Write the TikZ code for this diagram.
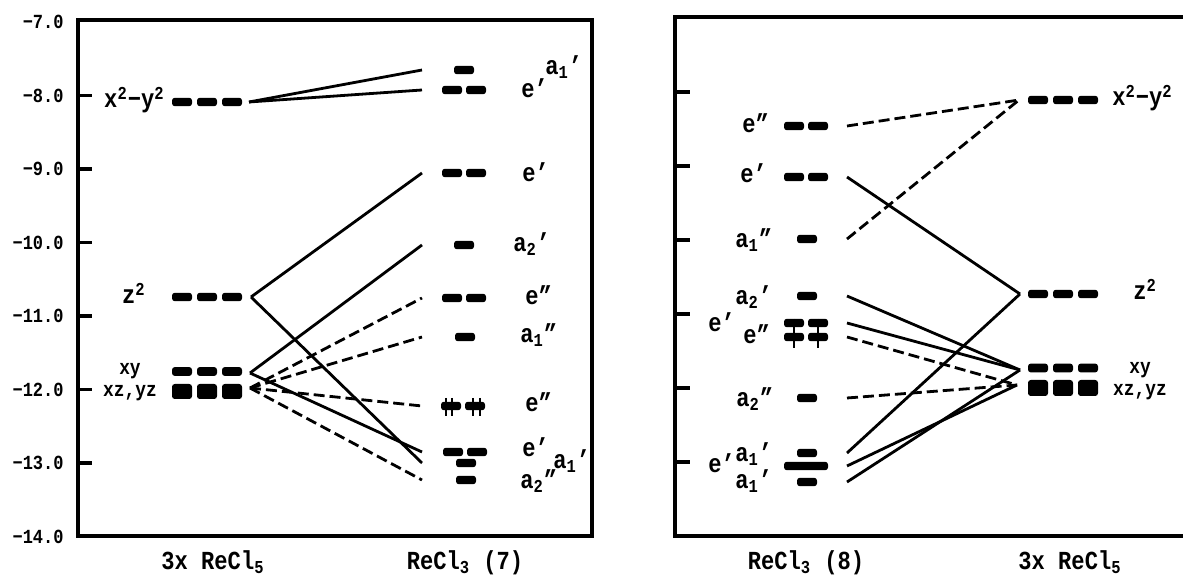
\documentclass[tikz,border=0pt]{standalone}
\usepackage{fontspec}
\newfontfamily\plotfont{Liberation Mono}[FakeStretch=0.85,Ligatures=TeX]
\newcommand\tribar[4]{% name, first centre x, y, height
  \node[orb,minimum height=#4] (#1a) at (#2,#3) {};
  \node[orb,minimum height=#4] (#1b) at (#2+25,#3) {};
  \node[orb,minimum height=#4] (#1c) at (#2+50,#3) {};}
\newcommand\duobar[3]{% name, first centre x, y
  \node[orb] (#1a) at (#2,#3) {};
  \node[orb] (#1b) at (#2+24,#3) {};}
\newcommand\monobar[3]{% name, centre x, y
  \node[orb] (#1) at (#2,#3) {};}
\begin{document}
\begin{tikzpicture}[x=0.5pt,y=-0.5pt,
  frame/.style={line width=1.6pt},
  conn/.style={line width=1.4pt},
  dconn/.style={line width=1.4pt, dash pattern=on 5.5pt off 2.5pt},
  orb/.style={fill=black, draw=none, inner sep=0pt, minimum height=4.2pt, minimum width=10pt, rounded corners=1.4pt},
  tick/.style={font=\plotfont\bfseries\fontsize{10}{11}\selectfont, anchor=east, inner sep=0pt},
  lab/.style={font=\plotfont\bfseries\fontsize{13}{14}\selectfont, inner sep=0pt, anchor=base west},
  slab/.style={font=\plotfont\bfseries\fontsize{10.5}{11}\selectfont, inner sep=0pt, anchor=base},
  blab/.style={font=\plotfont\bfseries\fontsize{13}{14}\selectfont, inner sep=0pt, anchor=base},
]
\useasboundingbox (0,0) rectangle (1183,576);
\fill[white] (0,0) rectangle (1183,576);

% ---------------- left panel frame and axis
\draw[frame] (78,20) rectangle (592,536);
\foreach \v/\yy in {8/95.5, 9/169, 10/242.5, 11/316, 12/389.5, 13/463} {
  \draw[frame] (78,\yy) -- (92,\yy);
  \node[tick] (t\v) at (64,\yy) {−\v.0};
}
\node[tick] (t7) at (64,22) {−7.0};
\node[tick] (t14) at (64,536.5) {−14.0};

% ---------------- right panel frame
\draw[frame] (1183,17) -- (675,17) -- (675,536) -- (1183,536);
\foreach \yy in {92,166,240,314,388,462} \draw[frame] (675,\yy) -- (690,\yy);

% ---------------- left column: 3x ReCl5
\tribar{lx}{182}{102}{4.2pt}
\tribar{lz}{182}{297}{4.2pt}
\tribar{lxy}{182}{371.5}{4.4pt}
\tribar{lxz}{182}{391.5}{7.5pt}
\node[lab, anchor=base east] (llx) at (165,108) {x\textsuperscript{2}−y\textsuperscript{2}};
\node[lab, anchor=base east] (llz) at (146,304) {z\textsuperscript{2}};
\node[slab] (llxy) at (130,375) {xy};
\node[slab] (llxz) at (130,397) {xz,yz};

% ---------------- middle column: ReCl3 (7)
\monobar{ma}{464}{70}
\duobar{mb}{452}{90}
\duobar{mc}{452}{173}
\monobar{md}{464}{245}
\duobar{me}{452}{298}
\monobar{mf}{465}{337}
\duobar{mg}{451}{406}
\foreach \xx in {446,452,473,480} \draw[line width=1.2pt] (\xx,398) -- (\xx,416);
\duobar{mh}{453}{452}
\monobar{mi}{466}{463}
\monobar{mj}{466}{480}

\node[lab] (mla) at (545,75) {a\textsubscript{1}'};
\node[lab] (mlb) at (521,98) {e'};
\node[lab] (mlc) at (522,182) {e'};
\node[lab] (mld) at (513,252) {a\textsubscript{2}'};
\node[lab] (mle) at (525,305) {e''};
\node[lab] (mlf) at (520,343) {a\textsubscript{1}''};
\node[lab] (mlg) at (525,412) {e''};
\node[lab] (mlh) at (522,457) {e'};
\node[lab] (mli) at (553,469) {a\textsubscript{1}'};
\node[lab] (mlj) at (520,489) {a\textsubscript{2}''};

% connector ends, left panel
\coordinate (Lx) at (249,102);
\coordinate (Lz) at (251,297);
\coordinate (Lxy) at (250,373);
\coordinate (Lxz) at (250,388);
\coordinate (Ma) at (422,70);
\coordinate (Mb) at (422,90);
\coordinate (Mc) at (422,173);
\coordinate (Md) at (422,245);
\coordinate (Me) at (422,298);
\coordinate (Mf) at (422,337);
\coordinate (Mg) at (422,406);
\coordinate (Mh) at (422,452);
\coordinate (Mi) at (422,463);
\coordinate (Mj) at (422,480);

\draw[conn] (Lx) -- (Ma);
\draw[conn] (Lx) -- (Mb);
\draw[conn] (Lz) -- (Mc);
\draw[conn] (Lz) -- (Mi);
\draw[conn] (Lxy) -- (Md);
\draw[conn] (Lxy) -- (Mh);
\draw[dconn] (Lxz) -- (Me);
\draw[dconn] (Lxz) -- (Mf);
\draw[dconn] (Lxz) -- (Mg);
\draw[dconn] (Lxz) -- (Mj);

% ---------------- right panel middle column: ReCl3 (8)
\duobar{na}{794}{126}
\duobar{nb}{794}{177}
\monobar{nc}{807}{239}
\monobar{nd}{807}{296}
\duobar{ne}{794}{323}
\duobar{nf}{794}{337}
\foreach \xx in {794,818} \draw[line width=1.2pt] (\xx,319) -- (\xx,348);
\monobar{ng}{807}{398}
\monobar{nh}{807}{453}
\node[orb, minimum width=22pt] (ni) at (806,466) {};
\monobar{nj}{807}{482}

\node[lab] (nla) at (742,133) {e''};
\node[lab] (nlb) at (740,183) {e'};
\node[lab] (nlc) at (735,248) {a\textsubscript{1}''};
\node[lab] (nld) at (735,305) {a\textsubscript{2}'};
\node[lab] (nle) at (708,332) {e'};
\node[lab] (nlf) at (743,344) {e''};
\node[lab] (nlg) at (736,407) {a\textsubscript{2}''};
\node[lab] (nlh) at (735,462) {a\textsubscript{1}'};
\node[lab] (nli) at (708,473) {e'};
\node[lab] (nlj) at (735,489) {a\textsubscript{1}'};

% ---------------- right column: 3x ReCl5
\tribar{rx}{1038}{100}{4.2pt}
\tribar{rz}{1038}{294}{4.2pt}
\tribar{rxy}{1038}{368}{4.4pt}
\tribar{rxz}{1038}{388}{8pt}
\node[lab] (rlx) at (1112,106) {x\textsuperscript{2}−y\textsuperscript{2}};
\node[lab] (rlz) at (1133,300) {z\textsuperscript{2}};
\node[slab] (rlxy) at (1140,374) {xy};
\node[slab] (rlxz) at (1140,396) {xz,yz};

% connector ends, right panel
\coordinate (Na) at (847,126);
\coordinate (Nb) at (847,177);
\coordinate (Nc) at (847,239);
\coordinate (Nd) at (847,296);
\coordinate (Ne) at (847,323);
\coordinate (Nf) at (847,337);
\coordinate (Ng) at (847,398);
\coordinate (Nh) at (847,453);
\coordinate (Ni) at (847,466);
\coordinate (Nj) at (847,482);
\coordinate (Rx) at (1019,100);
\coordinate (Rz) at (1020,294);
\coordinate (Rxy) at (1020,370);
\coordinate (Rxz) at (1017,385);

\draw[dconn] (Na) -- (Rx);
\draw[dconn] (Nc) -- (Rx);
\draw[conn] (Nb) -- (Rz);
\draw[conn] (Nh) -- (Rz);
\draw[conn] (Nd) -- (Rxy);
\draw[conn] (Ne) -- (Rxy);
\draw[dconn] (Nf) -- (Rxz);
\draw[dconn] (Ng) -- (Rxz);
\draw[conn] (Ni) -- (Rxz);
\draw[conn] (Nj) -- (Rxy);

% ---------------- bottom labels
\node[blab] (b1) at (213,570) {3x ReCl\textsubscript{5}};
\node[blab] (b2) at (465,570) {ReCl\textsubscript{3} (7)};
\node[blab] (b3) at (806,570) {ReCl\textsubscript{3} (8)};
\node[blab] (b4) at (1070,570) {3x ReCl\textsubscript{5}};
\end{tikzpicture}
\end{document}
